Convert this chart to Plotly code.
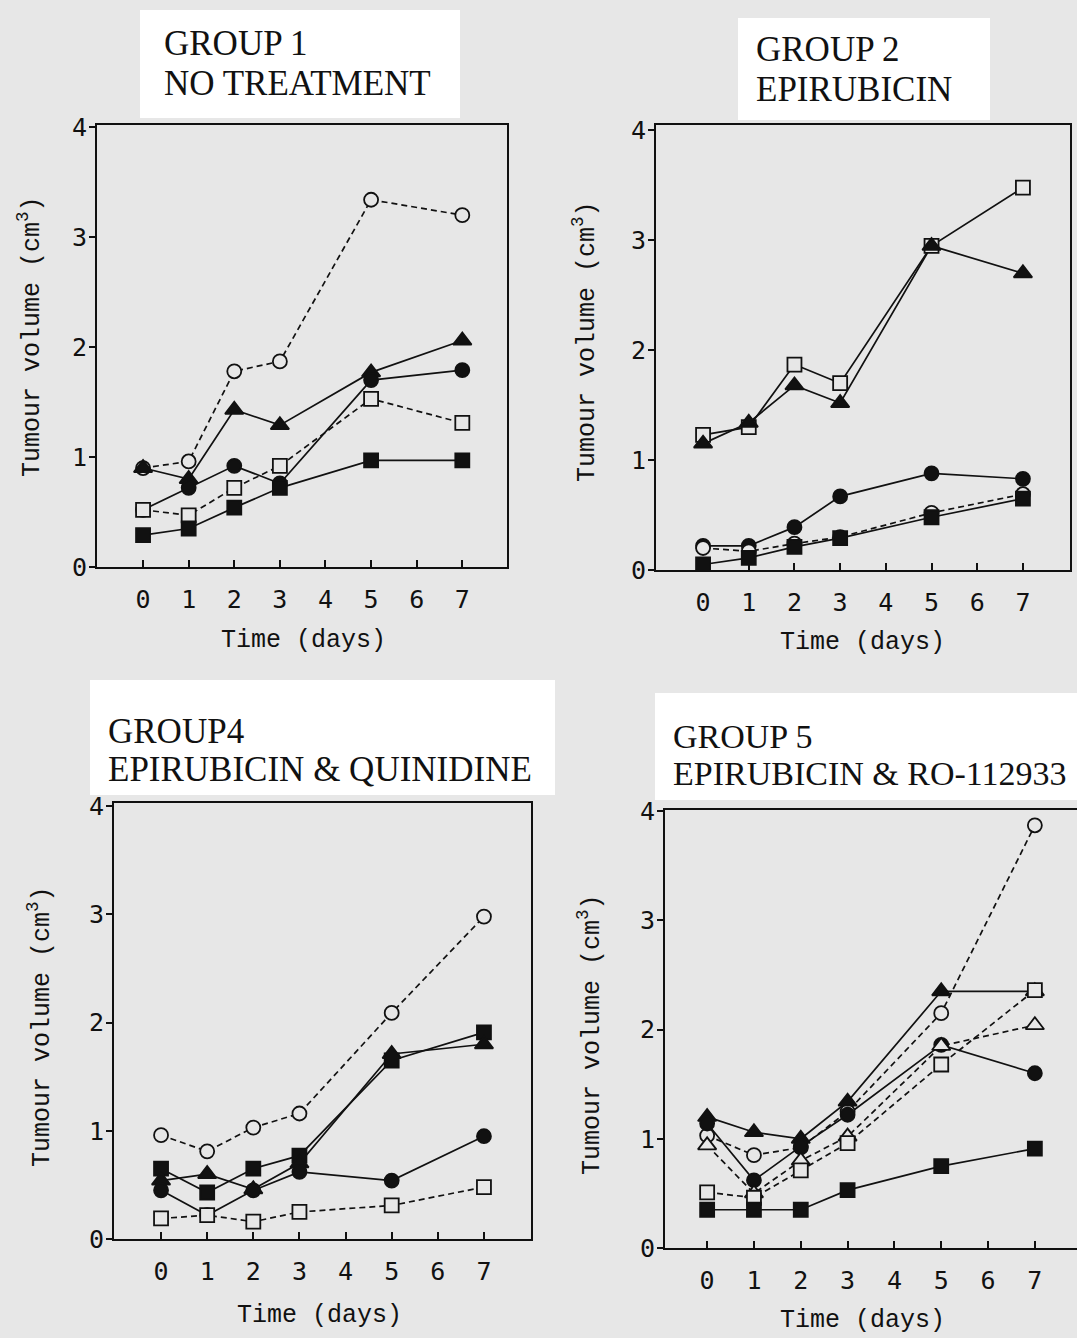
import plotly.graph_objects as go

# ---- data -------------------------------------------------------------
DAYS = [0, 1, 2, 3, 5, 7]
X_TICKS = [0, 1, 2, 3, 4, 5, 6, 7]
Y_TICKS = [0, 1, 2, 3, 4]

# Group 1 - no treatment
g1_open_circle = [0.90, 0.96, 1.78, 1.87, 3.34, 3.20]
g1_filled_triangle = [0.90, 0.80, 1.43, 1.29, 1.77, 2.06]
g1_filled_circle = [0.52, 0.72, 0.92, 0.76, 1.70, 1.79]
g1_open_square = [0.52, 0.47, 0.72, 0.92, 1.53, 1.31]
g1_filled_square = [0.29, 0.35, 0.54, 0.72, 0.97, 0.97]

# Group 2 - epirubicin
g2_open_square = [1.23, 1.30, 1.87, 1.70, 2.95, 3.48]
g2_filled_triangle = [1.15, 1.34, 1.68, 1.52, 2.95, 2.70]
g2_filled_circle = [0.22, 0.22, 0.39, 0.67, 0.88, 0.83]
g2_open_circle = [0.20, 0.17, 0.24, 0.30, 0.52, 0.69]
g2_filled_square = [0.05, 0.11, 0.21, 0.29, 0.48, 0.65]

# Group 4 - epirubicin & quinidine
g4_open_circle = [0.96, 0.81, 1.03, 1.16, 2.09, 2.98]
g4_filled_square = [0.65, 0.43, 0.65, 0.77, 1.65, 1.91]
g4_filled_triangle = [0.54, 0.60, 0.46, 0.70, 1.71, 1.80]
g4_filled_circle = [0.45, 0.22, 0.45, 0.62, 0.54, 0.95]
g4_open_square = [0.19, 0.22, 0.16, 0.25, 0.31, 0.48]

# Group 5 - epirubicin & RO-112933
g5_open_circle = [1.03, 0.85, 0.92, 1.25, 2.15, 3.87]
g5_filled_triangle = [1.20, 1.06, 1.00, 1.34, 2.35, 2.35]
g5_filled_circle = [1.14, 0.62, 0.93, 1.22, 1.86, 1.60]
g5_open_triangle = [0.94, 0.50, 0.80, 1.02, 1.85, 2.04]
g5_open_square = [0.51, 0.46, 0.71, 0.96, 1.68, 2.36]
g5_filled_square = [0.35, 0.35, 0.35, 0.53, 0.75, 0.91]

TITLES = [
    ("GROUP 1", "NO TREATMENT"),
    ("GROUP 2", "EPIRUBICIN"),
    ("GROUP4", "EPIRUBICIN & QUINIDINE"),
    ("GROUP 5", "EPIRUBICIN & RO-112933"),
]
Y_LABEL = "Tumour volume (cm<sup>3</sup>)"
X_LABEL = "Time (days)"

# ---- styling ----------------------------------------------------------
W, H = 1077, 1338
BG = "#e7e7e7"
INK = "#111111"
MONO = "Liberation Mono, DejaVu Sans Mono, monospace"
DIGITS = "DejaVu Sans Mono, Liberation Mono, monospace"
SERIF = "Liberation Serif, Times New Roman, serif"
DASH = "6px,4px"

# (symbol, filled, dashed)
STYLE = {
    "open_circle": ("circle", False, True),
    "filled_circle": ("circle", True, False),
    "filled_triangle": ("triangle-up", True, False),
    "open_triangle": ("triangle-up", False, True),
    "open_square": ("square", False, True),
    "filled_square": ("square", True, False),
}

panels = [
    [("open_circle", g1_open_circle), ("filled_triangle", g1_filled_triangle),
     ("filled_circle", g1_filled_circle), ("open_square", g1_open_square),
     ("filled_square", g1_filled_square)],
    [("open_square", g2_open_square), ("filled_triangle", g2_filled_triangle),
     ("filled_circle", g2_filled_circle), ("open_circle", g2_open_circle),
     ("filled_square", g2_filled_square)],
    [("open_circle", g4_open_circle), ("filled_square", g4_filled_square),
     ("filled_triangle", g4_filled_triangle), ("filled_circle", g4_filled_circle),
     ("open_square", g4_open_square)],
    [("open_circle", g5_open_circle), ("filled_triangle", g5_filled_triangle),
     ("filled_circle", g5_filled_circle), ("open_triangle", g5_open_triangle),
     ("open_square", g5_open_square), ("filled_square", g5_filled_square)],
]
# in group 2 the open squares are joined by a solid line
solid_override = {(1, "open_square")}


def px_x(v):
    return v / W


def px_y(v):
    return 1 - v / H


# plot boxes in pixels: left, right, top, bottom
boxes = [
    (97, 507, 125, 567),
    (656, 1070, 125, 570),
    (114, 531, 803, 1239),
    (665, 1077, 810, 1248),
]
x_ranges = [[-1.01, 7.98], [-1.03, 8.03], [-1.02, 8.02], [-0.9, 7.9]]
y_ranges = [[0, 4.02], [0, 4.05], [0, 4.03], [0, 4.01]]

fig = go.Figure()
layout = dict(
    width=W, height=H, margin=dict(l=0, r=0, t=0, b=0, autoexpand=False),
    paper_bgcolor=BG, plot_bgcolor=BG, showlegend=False,
    shapes=[], annotations=[],
)

for i, (series, box) in enumerate(zip(panels, boxes)):
    n = "" if i == 0 else str(i + 1)
    xa, ya = "x" + n, "y" + n
    l, r, t, b = box
    layout["xaxis" + n] = dict(
        domain=[px_x(l), px_x(r)], anchor=ya, range=x_ranges[i], automargin=False,
        tickvals=X_TICKS, ticks="inside", ticklen=7, tickwidth=1.5, tickcolor=INK,
        showline=True, mirror=True, linecolor=INK, linewidth=2,
        showgrid=False, zeroline=False, ticklabelstandoff=9,
        tickfont=dict(family=DIGITS, size=25, color=INK),
    )
    layout["yaxis" + n] = dict(
        domain=[px_y(b), px_y(t)], anchor=xa, range=y_ranges[i], automargin=False,
        tickvals=Y_TICKS, ticks="outside", ticklen=6, tickwidth=1.5, tickcolor=INK,
        showline=True, mirror=True, linecolor=INK, linewidth=2,
        showgrid=False, zeroline=False, ticklabelstandoff=-3,
        tickfont=dict(family=DIGITS, size=25, color=INK),
    )
    # connecting lines first so all markers sit on top
    for key, vals in series:
        sym, filled, dashed = STYLE[key]
        if (i, key) in solid_override:
            dashed = False
        fig.add_trace(go.Scatter(
            x=DAYS, y=vals, xaxis=xa, yaxis=ya, mode="lines",
            line=dict(color=INK, width=1.7, dash=DASH if dashed else "solid"),
            hoverinfo="skip",
        ))
    for key, vals in series:
        sym, filled, dashed = STYLE[key]
        size = 16 if "triangle" in sym else 14
        fig.add_trace(go.Scatter(
            x=DAYS, y=vals, xaxis=xa, yaxis=ya, mode="markers",
            marker=dict(symbol=sym, size=size, color=INK if filled else BG,
                        line=dict(color=INK, width=1.8)),
        ))

# white title cards with two-line serif captions
cards = [
    ((140, 460, 10, 118), 162, (42, 81), 35),
    ((738, 990, 18, 120), 754, (48, 87), 35),
    ((90, 555, 680, 795), 106, (729, 767), 35),
    ((655, 1077, 693, 800), 671, (734, 771), 34),
]
for (title, (rect, tx, (ty1, ty2), fsize)) in zip(TITLES, cards):
    x0, x1, y0, y1 = rect
    layout["shapes"].append(dict(
        type="rect", xref="paper", yref="paper",
        x0=px_x(x0), x1=px_x(x1), y0=px_y(y1), y1=px_y(y0),
        fillcolor="white", line=dict(width=0), layer="above",
    ))
    for text, ty in zip(title, (ty1, ty2)):
        layout["annotations"].append(dict(
            text=text, xref="paper", yref="paper", x=px_x(tx), y=px_y(ty + 2),
            xanchor="left", yanchor="middle", showarrow=False,
            font=dict(family=SERIF, size=fsize, color=INK),
        ))

# axis titles
y_titles = [(30, 337), (585, 342), (40, 1027), (590, 1035)]
x_titles = [(303, 640), (862, 642), (320, 1315), (862, 1320)]
for (yx, yy), (xx, xy) in zip(y_titles, x_titles):
    layout["annotations"].append(dict(
        text=Y_LABEL, xref="paper", yref="paper", x=px_x(yx), y=px_y(yy),
        xanchor="center", yanchor="middle", textangle=-90, showarrow=False,
        font=dict(family=MONO, size=25, color=INK),
    ))
    layout["annotations"].append(dict(
        text=X_LABEL, xref="paper", yref="paper", x=px_x(xx), y=px_y(xy),
        xanchor="center", yanchor="middle", showarrow=False,
        font=dict(family=MONO, size=25, color=INK),
    ))

fig.update_layout(**layout)
fig.write_html("out.html")
